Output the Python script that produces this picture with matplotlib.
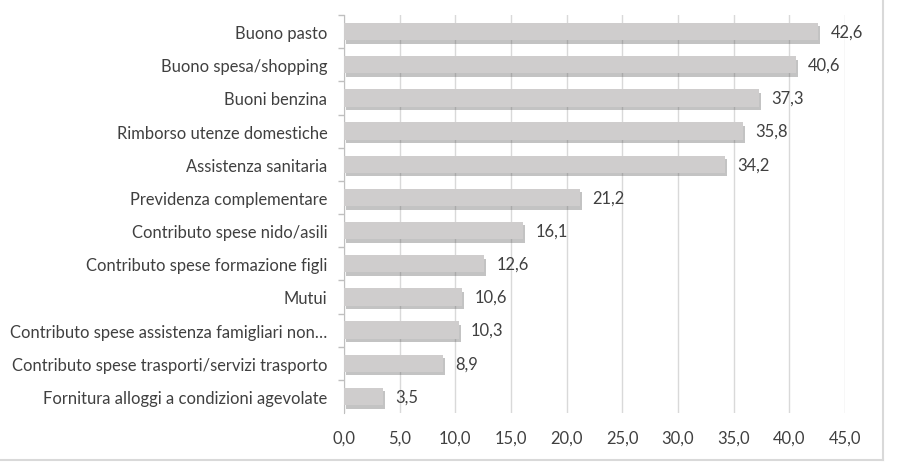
#!/usr/bin/env python3
# -*- coding: utf-8 -*-

import matplotlib.pyplot as plt
import matplotlib.patheffects as pe
from matplotlib.lines import Line2D

categories = [
	"Buono pasto",
	"Buono spesa/shopping",
	"Buoni benzina",
	"Rimborso utenze domestiche",
	"Assistenza sanitaria",
	"Previdenza complementare",
	"Contributo spese nido/asili",
	"Contributo spese formazione figli",
	"Mutui",
	"Contributo spese assistenza famigliari non\u2026",
	"Contributo spese trasporti/servizi trasporto",
	"Fornitura alloggi a condizioni agevolate",
]
values = [42.6, 40.6, 37.3, 35.8, 34.2, 21.2, 16.1, 12.6, 10.6, 10.3, 8.9, 3.5]
xticks = [0, 5, 10, 15, 20, 25, 30, 35, 40, 45]

text_color = '#404040'
fs = 11.9
plt.rcParams['font.family'] = ['Lato', 'DejaVu Sans']

fig = plt.figure(figsize=(9.09, 4.77), dpi=100)
ax = fig.add_axes([344/909, 1-414/477, (845-344)/909, (414-16)/477])

pos = list(range(len(categories)))
bars = ax.barh(pos, values, height=0.52, color='#cfcdcd', zorder=3)
for b in bars:
	b.set_path_effects([pe.SimplePatchShadow(offset=(1.5, -2.5), shadow_rgbFace='#555555', alpha=0.35), pe.Normal()])

for p, v in zip(pos, values):
	ax.text(v + 1.1, p, f"{v:.1f}".replace('.', ','), va='center', ha='left', fontsize=fs, color=text_color)

ax.set_xlim(0, 45)
ax.set_ylim(len(categories) - 0.5, -0.5)
ax.set_xticks(xticks)
ax.set_xticklabels([f"{t:.1f}".replace('.', ',') for t in xticks])
ax.set_yticks(pos)
ax.set_yticklabels(categories)
ax.set_yticks([p + 0.5 for p in pos[:-1]] + [-0.5], minor=True)
ax.tick_params(axis='y', which='major', length=0, pad=12, labelsize=fs, labelcolor=text_color)
ax.tick_params(axis='y', which='minor', length=4, color='#bfbfbf', width=1)
ax.tick_params(axis='x', length=0, pad=12, labelsize=fs, labelcolor=text_color)
ax.grid(axis='x', color='#d9d9d9', linewidth=1, zorder=0)
for s in ['top', 'right', 'bottom']:
	ax.spines[s].set_visible(False)
ax.spines['left'].set_color('#bfbfbf')

# chart area border
yb = 1 - 461/477
xr = 883/909
fig.add_artist(Line2D([0, xr], [yb, yb], color='#d9d9d9', linewidth=1.5, transform=fig.transFigure))
fig.add_artist(Line2D([xr, xr], [yb, 1], color='#d9d9d9', linewidth=1.5, transform=fig.transFigure))

plt.savefig('out.png', dpi=100)
